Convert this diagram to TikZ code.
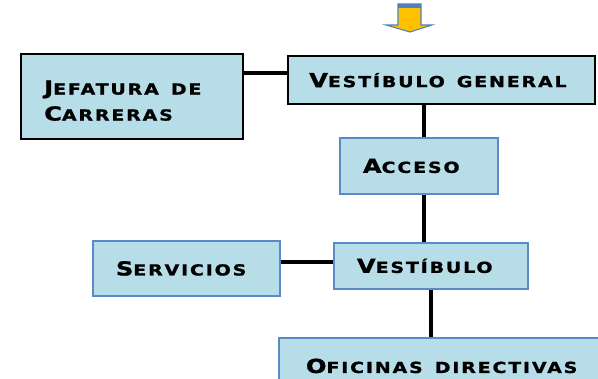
\documentclass[tikz,border=0pt]{standalone}
\usepackage{fontspec}
\newfontfamily\cop{DejaVu Sans}[FakeStretch=1.25,LetterSpace=12,BoldFeatures={FakeBold=1.2}]
\newcommand\Cp[1]{{\fontsize{14.5}{19.5}\selectfont #1}}
\newcommand\Lw[1]{{\fontsize{11.4}{19.5}\selectfont #1}}
\newcommand\Sp{\hspace{9pt}}
\definecolor{boxfill}{HTML}{B7DDE8}
\definecolor{boxblue}{HTML}{5B8AC6}
\definecolor{arrorange}{HTML}{FFC000}
\definecolor{arrblue}{HTML}{4F81BD}
\tikzset{
  box/.style={rectangle, anchor=north west, fill=boxfill, align=left,
    inner ysep=0pt, inner xsep=17.25pt,
    font=\cop\bfseries\fontsize{11.4}{19.5}\selectfont},
  blackbox/.style={box, draw=black, line width=1.8pt},
  bluebox/.style={box, draw=boxblue, line width=1.4pt},
  conn/.style={draw=black, line width=2.6pt}
}
\begin{document}
\begin{tikzpicture}[x=0.75pt,y=-0.75pt]
\useasboundingbox (0,0) rectangle (598,378);
% arrow
\fill[arrorange, draw=arrblue, line width=0.8pt]
  (398,4) -- (421,4) -- (421,25) -- (432,25) -- (410,32) -- (386,25) -- (398,25) -- cycle;
\fill[arrblue] (398,4) rectangle (421,8);
% boxes
\node[blackbox, text width=132pt, minimum height=63.75pt] (jef) at (20,53)
  {\rule{0pt}{16.5pt}\Cp{J}\Lw{EFATURA}\Sp\Lw{DE}\\\Cp{C}\Lw{ARRERAS}};
\node[blackbox, text width=198.75pt, minimum height=36pt, inner xsep=15.75pt] (vg) at (287,55)
  {\Cp{V}\Lw{ESTÍBULO}\Sp\Lw{GENERAL}};
\node[bluebox, text width=84pt, minimum height=42pt] (acc) at (339,137)
  {\Cp{A}\Lw{CCESO}};
\node[bluebox, text width=111pt, minimum height=34.5pt] (ves) at (333,242)
  {\Cp{V}\Lw{ESTÍBULO}};
\node[bluebox, text width=105.75pt, minimum height=41.25pt] (ser) at (92,240)
  {\Cp{S}\Lw{ERVICIOS}};
\node[bluebox, text width=201pt, minimum height=42pt, inner xsep=20.25pt] (ofi) at (278,337)
  {\Cp{O}\Lw{FICINAS}\Sp\Lw{DIRECTIVAS}};
% connectors
\draw[conn] (jef.east |- 0,73) -- (vg.west |- 0,73);
\draw[conn] (vg.south -| 424,0) -- (acc.north -| 424,0);
\draw[conn] (acc.south -| 424,0) -- (ves.north -| 424,0);
\draw[conn] (ser.east |- 0,262) -- (ves.west |- 0,262);
\draw[conn] (ves.south -| 431,0) -- (ofi.north -| 431,0);
\end{tikzpicture}
\end{document}
